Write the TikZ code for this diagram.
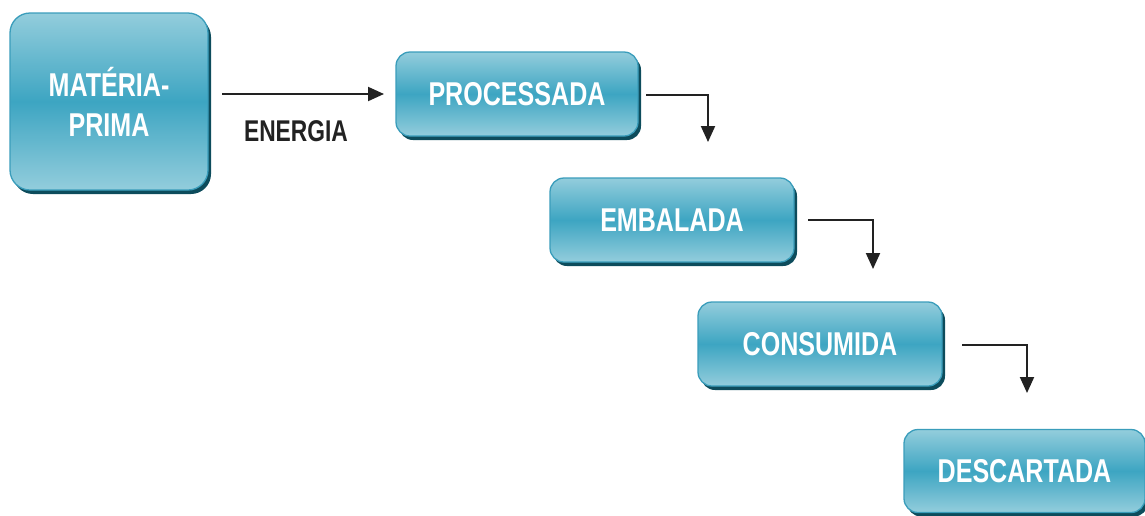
\documentclass[tikz,border=0pt]{standalone}
\usepackage{fontspec}
\newfontfamily\cond{Liberation Sans}[FakeStretch=0.76]
\usetikzlibrary{shadows,arrows.meta}
\definecolor{boxlight}{HTML}{93CDDC}
\definecolor{boxmid}{HTML}{3DA5C2}
\definecolor{boxedge}{HTML}{3A9DBB}
\definecolor{boxshadow}{HTML}{0D4C5C}
\definecolor{arrowcol}{HTML}{222222}
\tikzset{
  stagebox/.style={rounded corners=14pt, draw=boxedge, line width=1.3pt,
    top color=boxlight, bottom color=boxlight, middle color=boxmid,
    drop shadow={shadow xshift=3pt, shadow yshift=-4pt, fill=boxshadow, opacity=1},
    text=white, font=\cond\bfseries\fontsize{33}{40}\selectfont, align=center,
    inner sep=0pt},
  arr/.style={draw=arrowcol, line width=2pt, -{Triangle[width=14pt,length=16pt]}},
  lbl/.style={text=arrowcol, font=\cond\bfseries\fontsize{30}{34}\selectfont}
}
\begin{document}
\begin{tikzpicture}[x=1pt,y=-1pt]
\useasboundingbox (0,0) rectangle (1145,515);
\node[stagebox, rounded corners=20pt, minimum width=198pt, minimum height=177pt] (m) at (109,101.5) {MATÉRIA-\\PRIMA};
\node[stagebox, minimum width=242pt, minimum height=84pt] (p) at (517,94) {PROCESSADA};
\node[stagebox, minimum width=244pt, minimum height=84pt] (e) at (672,220) {EMBALADA};
\node[stagebox, minimum width=244pt, minimum height=84pt] (c) at (820,344) {CONSUMIDA};
\node[stagebox, minimum width=241pt, minimum height=83pt] (d) at (1024.5,471) {DESCARTADA};
\node[lbl] (energia) at (296,131) {ENERGIA};
\coordinate (s0) at (222,94);
\coordinate (t0) at (384,94);
\draw[arr] (s0) -- (t0);
\coordinate (s1) at (646,95);
\coordinate (t1) at (708,142);
\draw[arr] (s1) -| (t1);
\coordinate (s2) at (808,220);
\coordinate (t2) at (873,269);
\draw[arr] (s2) -| (t2);
\coordinate (s3) at (962,345);
\coordinate (t3) at (1027,393);
\draw[arr] (s3) -| (t3);
\end{tikzpicture}
\end{document}
